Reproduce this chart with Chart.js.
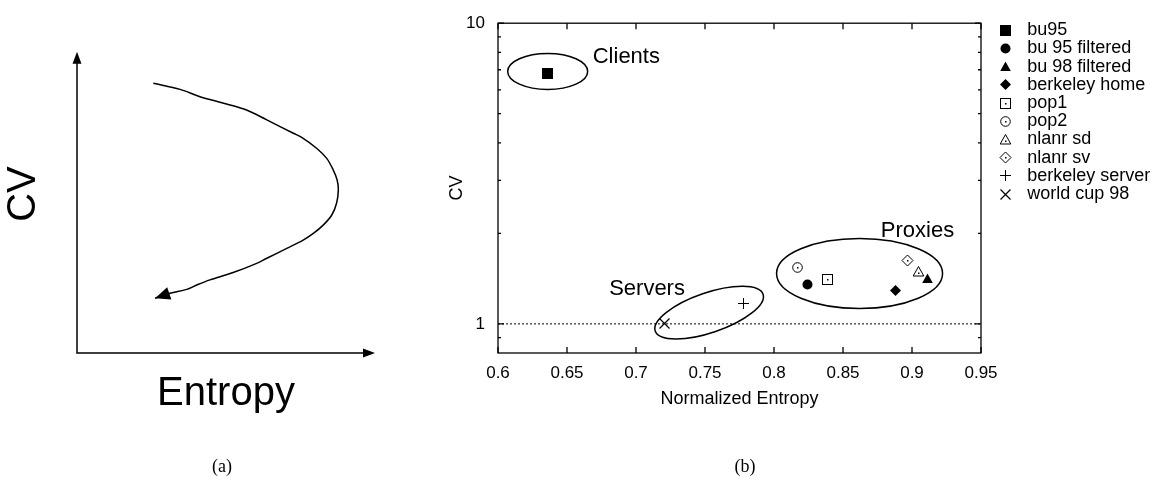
<!DOCTYPE html>
<html>
<head>
<meta charset="utf-8">
<title>CV vs entropy</title>
<script src="https://cdn.jsdelivr.net/npm/chart.js@4.4.1/dist/chart.umd.min.js"></script>
<style>
  html, body { margin: 0; padding: 0; background: #fff; }
  body { width: 1156px; height: 498px; position: relative; overflow: hidden; }
  canvas { position: absolute; top: 0; }
  #sketch { left: 0; }
  #plot { left: 440px; }
  .caption {
    position: absolute; top: 456px; transform: translateX(-50%);
    font: 18px "Liberation Serif", "Times New Roman", serif; color: #000;
  }
</style>
</head>
<body>
<canvas id="sketch" width="400" height="498"></canvas>
<canvas id="plot" width="760" height="498"></canvas>
<div class="caption" style="left:222px">(a)</div>
<div class="caption" style="left:745px">(b)</div>
<script>
// (a) sketch of the trend, both axes run 0..1
const sketchEntropy = [0.256, 0.346, 0.413, 0.502, 0.569, 0.637, 0.726, 0.754, 0.804, 0.838, 0.860, 0.873, 0.877,
                       0.871, 0.855, 0.827, 0.793, 0.759, 0.704, 0.637, 0.603, 0.524, 0.446, 0.402, 0.368, 0.312, 0.262];
const sketchCV = [0.848, 0.829, 0.806, 0.783, 0.764, 0.733, 0.691, 0.678, 0.644, 0.612, 0.575, 0.544, 0.513,
                  0.471, 0.434, 0.403, 0.376, 0.355, 0.329, 0.298, 0.282, 0.253, 0.230, 0.214, 0.200, 0.188, 0.172];

// (b) measured traces
const traceNames = ['bu95', 'bu 95 filtered', 'bu 98 filtered', 'berkeley home', 'pop1',
                    'pop2', 'nlanr sd', 'nlanr sv', 'berkeley server', 'world cup 98'];
const entropy = [0.636, 0.824, 0.911, 0.888, 0.839, 0.817, 0.905, 0.897, 0.778, 0.721];
const cv = [6.8, 1.35, 1.41, 1.29, 1.40, 1.54, 1.49, 1.63, 1.17, 1.0];

const xTicks = [0.6, 0.65, 0.7, 0.75, 0.8, 0.85, 0.9, 0.95];
const yTicks = [0.9, 1, 2, 3, 4, 5, 6, 7, 8, 9, 10];
const yLabels = [1, 10];

// groups circled on the plot (centre in data units, radii in px)
const groups = [
    { text: 'Clients', x: 0.636, y: 6.91, rx: 40, ry: 18, rot: 0, tx: 0.693, ty: 7.72 },
    { text: 'Proxies', x: 0.862, y: 1.47, rx: 83, ry: 35, rot: 0, tx: 0.904, ty: 2.03 },
    { text: 'Servers', x: 0.753, y: 1.09, rx: 57, ry: 20, rot: -0.33, tx: 0.708, ty: 1.305 },
];

const FONT = '"Liberation Sans", Arial, Helvetica, sans-serif';
Chart.defaults.font.family = FONT;
Chart.defaults.color = '#000';
Chart.defaults.animation = false;

const markerKinds = ['squareFill', 'circleFill', 'triangleFill', 'diamondFill', 'squareDot',
                     'circleDot', 'triangleDot', 'diamondDot', 'plus', 'cross'];

function makeMarker(kind) {
    const c = document.createElement('canvas');
    c.width = c.height = 13;
    const g = c.getContext('2d');
    const m = 6.5;
    g.fillStyle = g.strokeStyle = '#000';
    g.lineWidth = 1;
    const dot = () => { g.fillRect(6, 6, 1.5, 1.5); };
    const tri = () => { g.beginPath(); g.moveTo(m, 1.5); g.lineTo(11.8, 11); g.lineTo(1.2, 11); g.closePath(); };
    const dia = () => { g.beginPath(); g.moveTo(m, 1); g.lineTo(12, m); g.lineTo(m, 12); g.lineTo(1, m); g.closePath(); };
    switch (kind) {
        case 'squareFill': g.fillRect(1, 1, 11, 11); break;
        case 'circleFill': g.beginPath(); g.arc(m, m, 5, 0, Math.PI * 2); g.fill(); break;
        case 'triangleFill': tri(); g.fill(); break;
        case 'diamondFill': dia(); g.fill(); break;
        case 'squareDot': g.strokeRect(1.5, 1.5, 10, 10); dot(); break;
        case 'circleDot': g.beginPath(); g.arc(m, m, 4.8, 0, Math.PI * 2); g.stroke(); dot(); break;
        case 'triangleDot': tri(); g.stroke(); g.fillRect(6, 7.5, 1.5, 1.5); break;
        case 'diamondDot': dia(); g.stroke(); dot(); break;
        case 'plus':
            g.beginPath(); g.moveTo(1, m); g.lineTo(12, m); g.moveTo(m, 1); g.lineTo(m, 12); g.stroke(); break;
        case 'cross':
            g.lineWidth = 1.2;
            g.beginPath(); g.moveTo(1.5, 1.5); g.lineTo(11.5, 11.5); g.moveTo(11.5, 1.5); g.lineTo(1.5, 11.5); g.stroke(); break;
    }
    return c;
}

function arrowHead(ctx, fx, fy, tx, ty, len, half) {
    const a = Math.atan2(ty - fy, tx - fx);
    const bx = tx - Math.cos(a) * len, by = ty - Math.sin(a) * len;
    ctx.beginPath();
    ctx.moveTo(tx, ty);
    ctx.lineTo(bx + Math.sin(a) * half, by - Math.cos(a) * half);
    ctx.lineTo(bx - Math.sin(a) * half, by + Math.cos(a) * half);
    ctx.closePath();
    ctx.fill();
}

// ---------- (a) ----------
const sketchArrows = {
    id: 'sketchArrows',
    afterDatasetsDraw(chart) {
        const { ctx, chartArea: a, scales: { x, y } } = chart;
        ctx.save();
        ctx.strokeStyle = ctx.fillStyle = '#000';
        ctx.lineWidth = 1.5;
        const topY = y.getPixelForValue(0.947);
        ctx.beginPath();
        ctx.moveTo(a.left, topY + 4);
        ctx.lineTo(a.left, a.bottom);
        ctx.lineTo(a.right - 4, a.bottom);
        ctx.stroke();
        arrowHead(ctx, a.left, a.bottom, a.left, topY, 12, 4.5);
        arrowHead(ctx, a.left, a.bottom, a.right, a.bottom, 12, 4.5);
        const n = sketchEntropy.length;
        arrowHead(ctx,
            x.getPixelForValue(sketchEntropy[n - 2]), y.getPixelForValue(sketchCV[n - 2]),
            x.getPixelForValue(sketchEntropy[n - 1]), y.getPixelForValue(sketchCV[n - 1]), 15, 6.5);
        ctx.restore();
    }
};

new Chart(document.getElementById('sketch'), {
    type: 'scatter',
    data: {
        datasets: [{
            data: sketchEntropy.map((v, i) => ({ x: v, y: sketchCV[i] })),
            showLine: true,
            borderColor: '#000',
            borderWidth: 1.5,
            pointRadius: 0,
            tension: 0.35,
        }]
    },
    options: {
        responsive: false,
        events: [],
        layout: { padding: { left: 0, top: 35, right: 25, bottom: 80 } },
        plugins: { legend: { display: false }, tooltip: { enabled: false } },
        scales: {
            x: {
                min: 0, max: 1,
                ticks: { display: false },
                grid: { display: false, drawTicks: false },
                border: { display: false },
                title: { display: true, text: 'Entropy', font: { size: 40 }, padding: 0 },
                afterFit: (s) => { s.height = 65; },
            },
            y: {
                min: 0, max: 1,
                ticks: { display: false },
                grid: { display: false, drawTicks: false },
                border: { display: false },
                title: { display: true, text: 'CV', font: { size: 40 }, padding: 0 },
                afterFit: (s) => { s.width = 77; },
            }
        }
    },
    plugins: [sketchArrows]
});

// ---------- (b) ----------
const gnuplotFrame = {
    id: 'gnuplotFrame',
    beforeDraw(chart) {
        // marker bitmaps land on fractional pixels; keep them crisp
        chart.ctx.imageSmoothingEnabled = false;
    },
    beforeDatasetsDraw(chart) {
        const { ctx, chartArea: a, scales: { x, y } } = chart;
        ctx.save();
        ctx.strokeStyle = '#000';
        ctx.lineWidth = 1;
        ctx.setLineDash([2, 2]);
        const one = y.getPixelForValue(1);
        ctx.beginPath();
        ctx.moveTo(a.left, one);
        ctx.lineTo(a.right, one);
        ctx.stroke();
        ctx.setLineDash([]);
        ctx.lineWidth = 1.3;
        ctx.strokeRect(a.left, a.top, a.right - a.left, a.bottom - a.top);
        ctx.beginPath();
        xTicks.forEach(v => {
            const px = x.getPixelForValue(v);
            ctx.moveTo(px, a.bottom); ctx.lineTo(px, a.bottom - 6);
            ctx.moveTo(px, a.top); ctx.lineTo(px, a.top + 6);
        });
        yTicks.forEach(v => {
            const py = y.getPixelForValue(v);
            const len = yLabels.includes(v) ? 6 : 3;
            ctx.moveTo(a.left, py); ctx.lineTo(a.left + len, py);
            ctx.moveTo(a.right, py); ctx.lineTo(a.right - len, py);
        });
        ctx.stroke();
        ctx.restore();
    },
    afterDatasetsDraw(chart) {
        const { ctx, scales: { x, y } } = chart;
        ctx.save();
        ctx.strokeStyle = ctx.fillStyle = '#000';
        ctx.lineWidth = 1.5;
        ctx.font = '22px ' + FONT;
        ctx.textAlign = 'center';
        ctx.textBaseline = 'middle';
        groups.forEach(g => {
            ctx.beginPath();
            ctx.ellipse(x.getPixelForValue(g.x), y.getPixelForValue(g.y), g.rx, g.ry, g.rot, 0, Math.PI * 2);
            ctx.stroke();
            ctx.fillText(g.text, x.getPixelForValue(g.tx), y.getPixelForValue(g.ty));
        });
        ctx.restore();
    }
};

const markers = markerKinds.map(makeMarker);

new Chart(document.getElementById('plot'), {
    type: 'scatter',
    data: {
        datasets: traceNames.map((name, i) => ({
            label: name,
            data: [{ x: entropy[i], y: cv[i] }],
            pointStyle: markers[i],
            pointRadius: 6,
            pointHoverRadius: 6,
        }))
    },
    options: {
        responsive: false,
        events: [],
        layout: { padding: { left: 0, top: 14, right: 48, bottom: 88 } },
        plugins: {
            tooltip: { enabled: false },
            legend: {
                position: 'right',
                align: 'start',
                maxWidth: 160,
                title: { display: true, text: '', padding: 0, font: { size: 7, lineHeight: 1 } },
                labels: {
                    usePointStyle: true,
                    pointStyleWidth: 26,
                    padding: 0.2,
                    color: '#000',
                    font: { size: 18 },
                }
            }
        },
        scales: {
            x: {
                type: 'linear',
                min: 0.6, max: 0.95,
                afterBuildTicks: (s) => { s.ticks = xTicks.map(v => ({ value: v })); },
                ticks: { autoSkip: false, maxRotation: 0, padding: 10, font: { size: 17 }, callback: (v) => String(v) },
                grid: { display: false, drawTicks: false },
                border: { display: false },
                title: { display: true, text: 'Normalized Entropy', font: { size: 18 }, padding: 0 },
                afterFit: (s) => { s.height = 57; },
            },
            y: {
                type: 'logarithmic',
                min: 0.8, max: 10,
                afterBuildTicks: (s) => { s.ticks = yTicks.map(v => ({ value: v })); },
                ticks: { autoSkip: false, padding: 13, font: { size: 17 },
                         callback: (v) => yLabels.includes(v) ? String(v) : '' },
                grid: { display: false, drawTicks: false },
                border: { display: false },
                title: { display: true, text: 'CV', font: { size: 18 }, padding: { top: 6, bottom: 0 } },
                afterFit: (s) => { s.width = 58; },
            },
            y2: {
                position: 'right',
                ticks: { display: false },
                grid: { display: false, drawTicks: false },
                border: { display: false },
                afterFit: (s) => { s.width = 11; },
            }
        }
    },
    plugins: [gnuplotFrame]
});
</script>
</body>
</html>
